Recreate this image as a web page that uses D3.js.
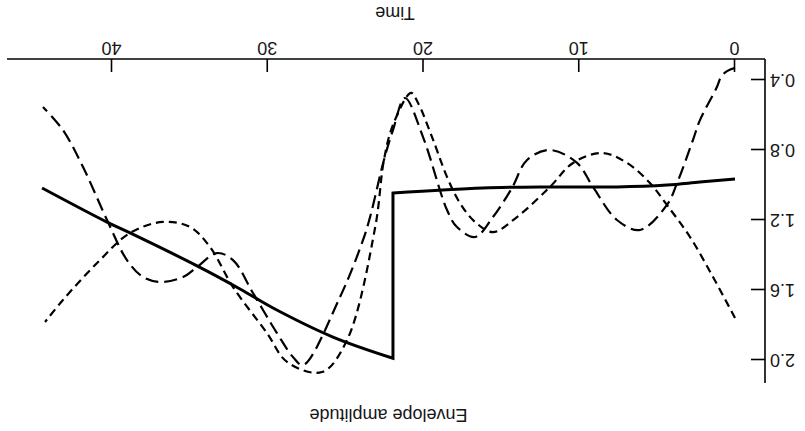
<!DOCTYPE html>
<html><head><meta charset="utf-8">
<script src="https://cdn.jsdelivr.net/npm/d3@7"></script>
<style>body{margin:0;background:#fff}svg{display:block}</style>
</head><body>
<svg id="c" width="805" height="431"></svg>
<script>
// Data (original orientation: Time on x, Envelope amplitude on y)
const xTicks = [0, 10, 20, 30, 40];
const yTicks = [0.4, 0.8, 1.2, 1.6, 2.0];

// solid curve: before the jump (t <= 21.96) and after it
const solidT = [0, 2.25, 4.37, 7.58, 11.88, 16.18, 21.96, 21.96, 25.81, 29.66, 31.78, 34.54, 38.84, 40.32, 44.49];
const solidV = [0.966, 0.983, 1.0, 1.011, 1.011, 1.017, 1.046, 1.99, 1.869, 1.703, 1.594, 1.462, 1.274, 1.212, 1.017];
const solidJumpIndex = 7;

const longT = [0, 0.51, 0.9, 1.16, 2.25, 2.7, 3.72, 4.37, 6.1, 7.58, 9.12, 10.14, 11.88, 13.35, 14.32, 15.54, 16.69, 17.85, 18.49, 20.03, 21.19, 21.96, 22.54, 23.43, 23.88, 25.36, 27.74, 28.38, 29.41, 30.95, 32.23, 33.26, 34.54, 35.44, 36.92, 38.01, 39.04, 40.32, 41.86, 43.15, 44.43];
const longV = [0.331, 0.349, 0.383, 0.44, 0.629, 0.743, 0.989, 1.114, 1.257, 1.2, 1.011, 0.874, 0.8, 0.857, 1.017, 1.183, 1.297, 1.24, 1.143, 0.726, 0.503, 0.686, 0.857, 1.183, 1.314, 1.64, 2.029, 1.983, 1.846, 1.617, 1.429, 1.389, 1.469, 1.526, 1.554, 1.526, 1.429, 1.2, 0.897, 0.686, 0.554];

const shortT = [0, 1.41, 2.89, 4.37, 5.46, 6.93, 8.54, 10.4, 11.88, 14.0, 15.54, 16.69, 17.66, 18.49, 19.45, 20.35, 20.8, 21.96, 22.54, 23.1, 24.91, 26.52, 28.76, 30.05, 32.23, 33.71, 34.99, 36.73, 38.84, 40.96, 43.15, 44.3];
const shortV = [1.76, 1.526, 1.297, 1.114, 0.989, 0.874, 0.817, 0.874, 1.011, 1.183, 1.269, 1.211, 1.103, 0.954, 0.726, 0.531, 0.474, 0.657, 0.857, 1.24, 1.886, 2.069, 2.011, 1.846, 1.583, 1.354, 1.24, 1.211, 1.274, 1.446, 1.657, 1.783];

const W = 805, H = 431;
const svg = d3.select("#c");
svg.append("rect").attr("width", W).attr("height", H).attr("fill", "#fff");
// whole figure is shown rotated by 180 degrees, as in the reference
const g = svg.append("g").attr("transform", `rotate(180,${W/2},${H/2})`);

const x = d3.scaleLinear().domain([0, 40]).range([70, 693]);
const y = d3.scaleLinear().domain([0.4, 2.0]).range([351, 71]);
const x0 = 40, y0 = 372;
const font = "'Liberation Sans', Arial, Helvetica, sans-serif";
const ink = "#161616";

// axis lines
g.append("line").attr("x1", x0).attr("x2", x0).attr("y1", 48).attr("y2", y0)
  .attr("stroke", "#000").attr("stroke-width", 1.6);
g.append("line").attr("x1", x0).attr("x2", 798).attr("y1", y0).attr("y2", y0)
  .attr("stroke", "#000").attr("stroke-width", 1.6);

const xa = g.append("g").attr("transform", `translate(0,${y0})`)
  .call(d3.axisBottom(x).tickValues(xTicks).tickFormat(d3.format("d")).tickSizeInner(-13).tickSizeOuter(0).tickPadding(4));
const ya = g.append("g").attr("transform", `translate(${x0},0)`)
  .call(d3.axisLeft(y).tickValues(yTicks).tickFormat(d3.format(".1f")).tickSizeInner(-14).tickSizeOuter(0).tickPadding(5));
[xa, ya].forEach(a => {
  a.select(".domain").remove();
  a.selectAll(".tick line").attr("stroke", "#000").attr("stroke-width", 1.6);
  a.selectAll(".tick text").attr("fill", ink).style("font-family", font).style("font-size", "18px");
});

g.append("text").attr("x", 410).attr("y", 424).attr("text-anchor", "middle")
  .style("font-family", font).style("font-size", "18px").attr("fill", ink).text("Time");
g.append("text").attr("x", 416.5).attr("y", 22).attr("text-anchor", "middle")
  .style("font-family", font).style("font-size", "18px").attr("fill", ink).text("Envelope amplitude");

const mk = (T, V) => T.map((t, i) => [t, V[i]]);
const smooth = d3.line().x(d => x(d[0])).y(d => y(d[1])).curve(d3.curveCatmullRom.alpha(0.5));

g.append("path").attr("d", smooth(mk(longT, longV))).attr("fill", "none")
  .attr("stroke", "#000").attr("stroke-width", 2.2).attr("stroke-dasharray", "13,6");
g.append("path").attr("d", smooth(mk(shortT, shortV))).attr("fill", "none")
  .attr("stroke", "#000").attr("stroke-width", 2.2).attr("stroke-dasharray", "8,5");

const solidPts = mk(solidT, solidV);
const dSolid = smooth(solidPts.slice(0, solidJumpIndex)) +
  smooth(solidPts.slice(solidJumpIndex)).replace(/^M/, "L");
g.append("path").attr("d", dSolid).attr("fill", "none")
  .attr("stroke", "#000").attr("stroke-width", 3).attr("stroke-linejoin", "miter");
</script>
</body></html>
